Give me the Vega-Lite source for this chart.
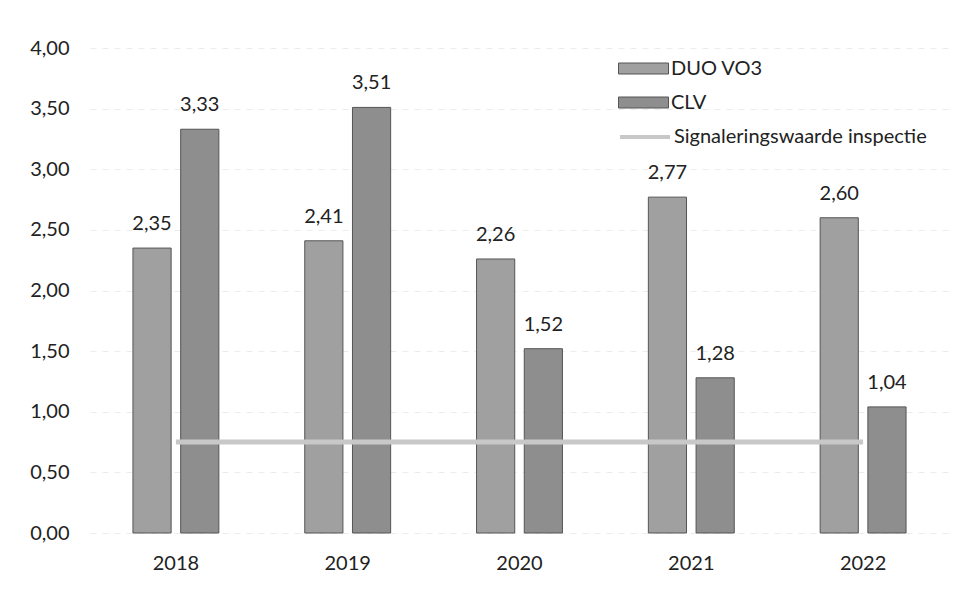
{
  "$schema": "https://vega.github.io/schema/vega-lite/v6.json",
  "autosize": {"type": "none"},
  "padding": {"left": 90, "top": 48, "right": 19, "bottom": 80},
  "width": 859,
  "height": 485,
  "background": "white",
  "config": {
    "locale": {"number": {"decimal": ",", "thousands": ".", "grouping": [3], "currency": ["€", ""]}},
    "font": "Lato",
    "view": {"stroke": null}
  },
  "datasets": {
    "bars": [
      {"jaar": "2018", "reeks": "DUO VO3", "waarde": 2.35},
      {"jaar": "2018", "reeks": "CLV", "waarde": 3.33},
      {"jaar": "2019", "reeks": "DUO VO3", "waarde": 2.41},
      {"jaar": "2019", "reeks": "CLV", "waarde": 3.51},
      {"jaar": "2020", "reeks": "DUO VO3", "waarde": 2.26},
      {"jaar": "2020", "reeks": "CLV", "waarde": 1.52},
      {"jaar": "2021", "reeks": "DUO VO3", "waarde": 2.77},
      {"jaar": "2021", "reeks": "CLV", "waarde": 1.28},
      {"jaar": "2022", "reeks": "DUO VO3", "waarde": 2.60},
      {"jaar": "2022", "reeks": "CLV", "waarde": 1.04}
    ],
    "signaal": [
      {"jaar": "2018", "reeks": "Signaleringswaarde inspectie", "waarde": 0.75},
      {"jaar": "2019", "reeks": "Signaleringswaarde inspectie", "waarde": 0.75},
      {"jaar": "2020", "reeks": "Signaleringswaarde inspectie", "waarde": 0.75},
      {"jaar": "2021", "reeks": "Signaleringswaarde inspectie", "waarde": 0.75},
      {"jaar": "2022", "reeks": "Signaleringswaarde inspectie", "waarde": 0.75}
    ]
  },
  "encoding": {
    "x": {
      "field": "jaar", "type": "nominal", "title": null,
      "scale": {"paddingInner": 0.5, "paddingOuter": 0.25},
      "axis": {"labelAngle": 0, "ticks": false, "domain": false, "grid": false, "labelFontSize": 20, "labelColor": "#222", "labelPadding": 20, "labelFont": "Lato"}
    },
    "y": {
      "field": "waarde", "type": "quantitative", "title": null,
      "scale": {"domain": [0, 4]},
      "axis": {"values": [0, 0.5, 1, 1.5, 2, 2.5, 3, 3.5, 4], "format": ".2f", "ticks": false, "domain": false, "labelFontSize": 20, "labelColor": "#222", "labelPadding": 21, "gridColor": "#ececec", "gridDash": [6, 6], "gridWidth": 1}
    }
  },
  "layer": [
    {
      "data": {"name": "bars"},
      "mark": {"type": "bar", "stroke": "#555555", "strokeWidth": 1},
      "encoding": {
        "xOffset": {"field": "reeks", "type": "nominal", "sort": ["DUO VO3", "CLV"], "scale": {"paddingInner": 0.2, "paddingOuter": 0}},
        "fill": {
          "field": "reeks", "type": "nominal", "title": null,
          "sort": ["DUO VO3", "CLV"],
          "scale": {"domain": ["DUO VO3", "CLV"], "range": ["#a0a0a0", "#8e8e8e"]},
          "legend": {
            "orient": "none", "legendX": 543, "legendY": 10,
            "symbolType": "M-2.5,-0.55L2.5,-0.55L2.5,0.55L-2.5,0.55Z",
            "symbolSize": 400, "symbolStrokeColor": "#555555", "symbolStrokeWidth": 1,
            "labelFontSize": 20, "labelColor": "#222", "labelOffset": 17,
            "rowPadding": 13, "labelFont": "Lato", "labelLimit": 400
          }
        }
      }
    },
    {
      "data": {"name": "bars"},
      "mark": {"type": "text", "baseline": "middle", "dy": -24, "fontSize": 20, "color": "#222", "font": "Lato"},
      "encoding": {
        "xOffset": {"field": "reeks", "type": "nominal", "sort": ["DUO VO3", "CLV"], "scale": {"paddingInner": 0.2, "paddingOuter": 0}},
        "text": {"field": "waarde", "type": "quantitative", "format": ".2f"}
      }
    },
    {
      "data": {"name": "signaal"},
      "mark": {"type": "line", "strokeWidth": 5},
      "encoding": {
        "stroke": {
          "field": "reeks", "type": "nominal", "title": null,
          "scale": {"range": ["#c8c8c8"]},
          "legend": {
            "orient": "none", "legendX": 543, "legendY": 77,
            "symbolType": "M-2.5,0L2.5,0", "symbolSize": 400, "symbolStrokeWidth": 4,
            "labelFontSize": 20, "labelColor": "#222", "labelOffset": 17, "labelFont": "Lato", "labelLimit": 400
          }
        }
      }
    }
  ]
}
